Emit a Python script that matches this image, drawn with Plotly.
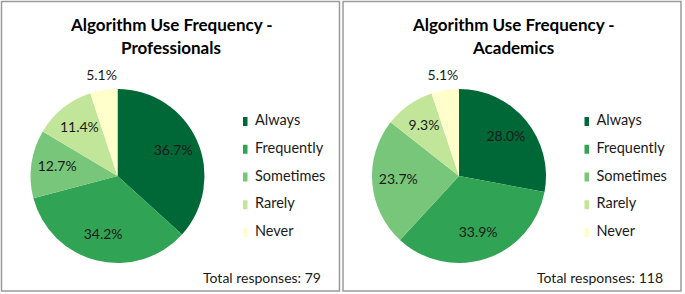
import plotly.graph_objects as go

categories = ["Always", "Frequently", "Sometimes", "Rarely", "Never"]
professionals = [29, 27, 10, 9, 4]
academics = [33, 40, 28, 11, 6]
colors = ["#006837", "#31a354", "#78c679", "#c2e699", "#ffffcc"]
panel_titles = [("Algorithm Use Frequency -", "Professionals"),
                ("Algorithm Use Frequency -", "Academics")]
totals = [sum(professionals), sum(academics)]

W, H = 685, 294
FONT = "Lato"
PANEL_DX = 341.5

def px(x):
    return x / W

def py(y):
    return 1 - y / H

fig = go.Figure()
annotations = []
shapes = []

for i, vals in enumerate([professionals, academics]):
    ox = i * PANEL_DX
    cx, cy, r = 117.5 + ox, 176, 87
    total = sum(vals)
    mids, widths, cum = [], [], 0
    for v in vals:
        mids.append((cum + v / 2) / total * 360)
        widths.append(v / total * 360)
        cum += v
    pname = "polar" if i == 0 else "polar2"
    # pie slices as polar wedges
    fig.add_trace(go.Barpolar(
        r=[1] * len(vals), theta=mids, width=widths, base=0,
        marker=dict(color=colors, line=dict(width=0)),
        customdata=vals, hovertext=categories,
        hovertemplate="%{hovertext}: %{customdata}<extra></extra>",
        showlegend=False, subplot=pname))
    # percentage labels at each slice's bisector
    radii = [0.7] * (len(vals) - 1) + [1.16]
    fig.add_trace(go.Scatterpolar(
        r=radii, theta=mids, mode="text",
        text=["%.1f%%" % (v / total * 100) for v in vals],
        textfont=dict(family=FONT, size=14, color="#1a1a1a"),
        cliponaxis=False, showlegend=False, hoverinfo="skip", subplot=pname))
    R = r * 1.25
    fig.update_layout(**{pname: dict(
        domain=dict(x=[px(cx - R), px(cx + R)], y=[py(cy + R), py(cy - R)]),
        bgcolor="rgba(0,0,0,0)", bargap=0,
        radialaxis=dict(range=[0, 1.25], visible=False),
        angularaxis=dict(rotation=90, direction="clockwise", visible=False))})

    # legend drawn as scatter on its own axes
    xa = "x" if i == 0 else "x2"
    ya = "y" if i == 0 else "y2"
    fig.add_trace(go.Scatter(
        x=[0] * len(categories), y=list(range(len(categories))),
        mode="markers", marker=dict(symbol="square", size=9, color=colors, line=dict(width=0)),
        showlegend=False, hoverinfo="skip", xaxis=xa, yaxis=ya))
    fig.add_trace(go.Scatter(
        x=[12] * len(categories), y=list(range(len(categories))),
        mode="text", text=categories, textposition="middle right",
        textfont=dict(family=FONT, size=14.5, color="#1a1a1a"),
        showlegend=False, hoverinfo="skip", xaxis=xa, yaxis=ya))
    axx = dict(domain=[px(243 + ox), px(343 + ox)], range=[0, 100], visible=False, fixedrange=True)
    axy = dict(domain=[py(246.5), py(107.5)], range=[4.5, -0.5], visible=False, fixedrange=True)
    if i == 0:
        fig.update_layout(xaxis=dict(axx, anchor="y"), yaxis=dict(axy, anchor="x"))
    else:
        fig.update_layout(xaxis2=dict(axx, anchor="y2"), yaxis2=dict(axy, anchor="x2"))

    t1, t2 = panel_titles[i]
    annotations.append(dict(x=px(171.5 + ox), y=py(25), xref="paper", yref="paper",
                            text="<b>%s</b>" % t1, showarrow=False, xanchor="center", yanchor="middle",
                            font=dict(family=FONT, size=17, color="#000000")))
    annotations.append(dict(x=px(171 + ox), y=py(47), xref="paper", yref="paper",
                            text="<b>%s</b>" % t2, showarrow=False, xanchor="center", yanchor="middle",
                            font=dict(family=FONT, size=17, color="#000000")))
    annotations.append(dict(x=px(323 + ox), y=py(277), xref="paper", yref="paper",
                            text="Total responses: %d" % totals[i], showarrow=False,
                            xanchor="right", yanchor="middle",
                            font=dict(family=FONT, size=14, color="#1a1a1a")))
    shapes.append(dict(type="rect", xref="paper", yref="paper",
                       x0=px(1.5 + ox), x1=px(339.5 + ox), y0=py(291), y1=py(1.5),
                       line=dict(color="#9a9a9a", width=1.5)))

fig.update_layout(width=W, height=H, margin=dict(l=0, r=0, t=0, b=0),
                  paper_bgcolor="white", plot_bgcolor="white",
                  annotations=annotations, shapes=shapes, showlegend=False)

fig.write_html("out.html", config={"displayModeBar": False},
               post_script="document.body.style.margin='0px';")
